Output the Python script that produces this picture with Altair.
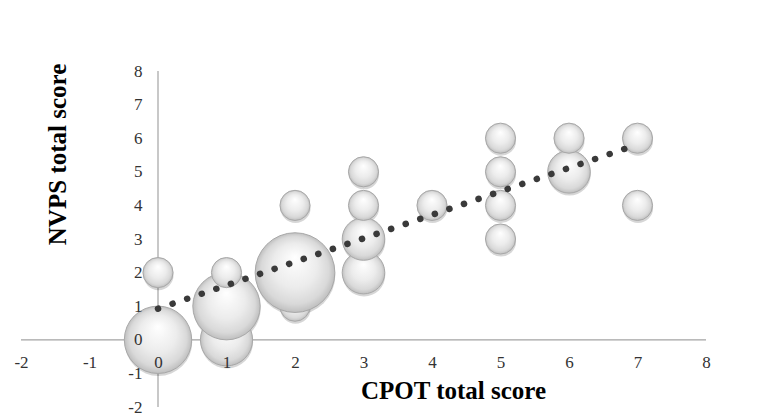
import altair as alt
import pandas as pd

# Bubble data
cpot = [0, 0, 1, 1, 1, 2, 2, 2, 3, 3, 3, 3, 4, 5, 5, 5, 5, 6, 6, 7, 7]
nvps = [0, 2, 0, 1, 2, 1, 2, 4, 2, 3, 4, 5, 4, 3, 4, 5, 6, 5, 6, 4, 6]
counts = [5, 1, 3, 5, 1, 1, 7, 1, 2, 2, 1, 1, 1, 1, 1, 1, 1, 2, 1, 1, 1]

x_ticks = [-2, -1, 0, 1, 2, 3, 4, 5, 6, 7, 8]
y_ticks = [-2, -1, 0, 1, 2, 3, 4, 5, 6, 7, 8]

df = pd.DataFrame({"cpot": cpot, "nvps": nvps, "n": counts, "order": list(range(len(cpot)))})

W, H = 685, 336
x_scale = alt.Scale(domain=[-2, 8], nice=False, zero=False)
y_scale = alt.Scale(domain=[-2, 8], nice=False, zero=False)
size_scale = alt.Scale(type="linear", domain=[0, 7], range=[0, 7 * 908])

label_font = "Liberation Serif"

x_axis = alt.Axis(
    orient="bottom", offset=-H * 0.2, domain=False, ticks=False, tickSize=0, grid=False,
    values=x_ticks, labelExpr="'' + datum.value",
    labelFont=label_font, labelFontSize=17, labelColor="#333333",
    labelPadding=23, labelBaseline="middle", labelFlush=False, labelOverlap=False,
    zindex=1, title="CPOT total score", titleFont=label_font, titleFontSize=25,
    titleFontWeight="bold", titleColor="#000000", titleX=432, titleY=59,
    titleAlign="center", titleBaseline="alphabetic",
)
y_axis = alt.Axis(
    orient="left", offset=-W * 0.2, domain=False, ticks=False, tickSize=0, grid=False,
    values=y_ticks, labelExpr="'' + datum.value",
    labelFont=label_font, labelFontSize=17, labelColor="#333333",
    labelPadding=16, labelFlush=False, labelOverlap=False,
    zindex=1, title="NVPS total score", titleFont=label_font, titleFontSize=25,
    titleFontWeight="bold", titleColor="#000000", titleX=-93, titleY=83,
    titleAngle=270, titleAlign="center", titleBaseline="alphabetic",
)

axis_src = alt.Data(values=[{"a": 0}])
x_line = alt.Chart(axis_src).mark_rule(color="#a3a3a3", strokeWidth=1.2).encode(
    x=alt.datum(-2, scale=x_scale, axis=x_axis), x2=alt.datum(8),
    y=alt.datum(0, scale=y_scale, axis=y_axis),
)
y_line = alt.Chart(axis_src).mark_rule(color="#a3a3a3", strokeWidth=1.2).encode(
    x=alt.datum(0, axis=x_axis), y=alt.datum(-2, axis=y_axis), y2=alt.datum(8)
)

base = alt.Chart(df)

shadow = base.mark_circle(color="#000000", opacity=0.16, xOffset=0.5, yOffset=2.5).encode(
    x=alt.X("cpot:Q", scale=x_scale, axis=x_axis),
    y=alt.Y("nvps:Q", scale=y_scale, axis=y_axis),
    size=alt.Size("n:Q", scale=size_scale, legend=None),
    order=alt.Order("order:Q"),
)

bubble_fill = {
    "gradient": "radial",
    "x1": 0.5, "y1": 0.3, "r1": 0,
    "x2": 0.5, "y2": 0.5, "r2": 0.5,
    "stops": [
        {"offset": 0, "color": "#ffffff"},
        {"offset": 0.55, "color": "#ececec"},
        {"offset": 0.85, "color": "#d9d9d9"},
        {"offset": 1, "color": "#bfbfbf"},
    ],
}

bubbles = base.mark_circle(
    fill=bubble_fill, opacity=1, fillOpacity=1, stroke="#a8a8a8", strokeWidth=1
).encode(
    x=alt.X("cpot:Q", scale=x_scale, axis=x_axis),
    y=alt.Y("nvps:Q", scale=y_scale, axis=y_axis),
    size=alt.Size("n:Q", scale=size_scale, legend=None),
    order=alt.Order("order:Q"),
)

trend = base.transform_regression("cpot", "nvps").mark_line(
    color="#3a3a3a", strokeWidth=6.5, strokeDash=[0.1, 15.3], strokeCap="round"
).encode(
    x=alt.X("cpot:Q", scale=x_scale, axis=x_axis),
    y=alt.Y("nvps:Q", scale=y_scale, axis=y_axis),
)

chart = alt.layer(x_line, y_line, shadow, bubbles, trend).properties(
    width=W, height=H,
    autosize=alt.AutoSizeParams(type="none"),
    padding={"left": 13, "top": 63, "right": 57, "bottom": 9},
    background="#ffffff",
).configure_view(stroke=None)

chart.save("out.html", embed_options={"renderer": "svg", "actions": False})
